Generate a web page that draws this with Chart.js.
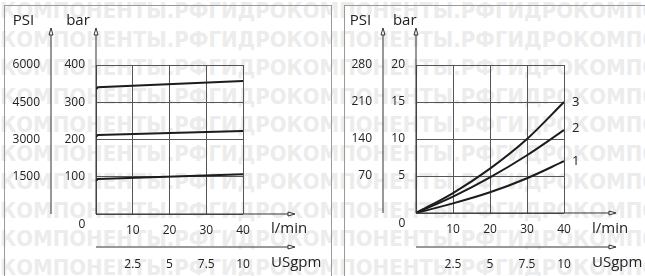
<!DOCTYPE html>
<html>
<head>
<meta charset="utf-8">
<script src="https://cdn.jsdelivr.net/npm/chart.js@4.4.1/dist/chart.umd.min.js"></script>
<style>
html, body { margin: 0; padding: 0; background: #fff; }
body { width: 645px; height: 276px; position: relative; overflow: hidden; }
#wm { position: absolute; left: 0; top: -3px; width: 645px; height: 290px; color: #ececec;
      font: bold 22px 'DejaVu Sans Condensed', 'DejaVu Sans', sans-serif; font-stretch: condensed;
      line-height: 28.5px; white-space: nowrap; overflow: hidden; }
.frame { position: absolute; top: 5px; height: 300px; border: 1px solid #9a9a9a; }
#f1 { left: 4px; width: 326px; }
#f2 { left: 344px; width: 330px; }
canvas { position: absolute; top: 0; }
#c1 { left: 0; }
#c2 { left: 337px; }
</style>
</head>
<body>
<div id="wm"></div>
<div class="frame" id="f1"></div>
<div class="frame" id="f2"></div>
<canvas id="c1" width="337" height="276"></canvas>
<canvas id="c2" width="308" height="276"></canvas>
<script>
// ---- left chart: pressure vs flow (three settings)
const flowL = [0, 0.5, 40];            // l/min
const setHigh = [335, 340, 357];       // bar
const setMid = [207, 212, 223];
const setLow = [89, 94, 107];

// ---- right chart: pressure drop vs flow (curves 1, 2, 3)
const flowR = [0, 10, 20, 30, 40];
const drop3 = [0, 2.7, 6.0, 10.0, 15.0];
const drop2 = [0, 2.2, 4.8, 7.8, 11.2];
const drop1 = [0, 1.3, 2.8, 4.7, 7.0];
const curveNames = ['3', '2', '1'];

// axis ranges
const barMaxL = 400, barStepL = 100, psiMaxL = 6000, psiStepL = 1500;
const barMaxR = 20, barStepR = 5, psiMaxR = 280, psiStepR = 70;
const flowMax = 40, flowStep = 10, gpmMax = 10, gpmStep = 2.5;

// watermark rows
const wmText = 'КОМПОНЕНТЫ.РФГИДРОКОМПОНЕНТЫ.РФГИДРОКОМПОНЕНТЫ';
let rows = '';
for (let i = 0; i < 10; i++) rows += '<div>' + wmText + '</div>';
document.getElementById('wm').innerHTML = rows;

Chart.defaults.font.family = "'Open Sans', sans-serif";
Chart.defaults.font.size = 12;
Chart.defaults.color = '#222';

function pts(xs, ys) {
  return xs.map((x, i) => ({ x: x, y: ys[i] }));
}

function upArrow(ctx, x, yBottom, tip) {
  ctx.beginPath();
  ctx.moveTo(x, yBottom);
  ctx.lineTo(x, tip + 7);
  ctx.moveTo(x - 2, tip + 7);
  ctx.lineTo(x, tip);
  ctx.lineTo(x + 2, tip + 7);
  ctx.closePath();
  ctx.stroke();
}

function rightArrow(ctx, x0, y, tip) {
  ctx.beginPath();
  ctx.moveTo(x0, y);
  ctx.lineTo(tip - 7, y);
  ctx.moveTo(tip - 7, y - 2);
  ctx.lineTo(tip, y);
  ctx.lineTo(tip - 7, y + 2);
  ctx.closePath();
  ctx.stroke();
}

const decor = {
  id: 'decor',
  afterDraw(chart, args, o) {
    const ctx = chart.ctx, a = chart.chartArea;
    const psi = chart.scales.psi, gpm = chart.scales.gpm;
    const tipX = a.right + 52;
    ctx.save();
    ctx.strokeStyle = '#333';
    ctx.lineWidth = 1;
    upArrow(ctx, a.left, a.bottom, 28);
    upArrow(ctx, psi.right, a.bottom, 28);
    rightArrow(ctx, a.left, a.bottom, tipX);
    rightArrow(ctx, a.left, gpm.top, tipX);

    ctx.fillStyle = '#222';
    ctx.font = "15px 'Open Sans'";
    ctx.textAlign = 'center';
    ctx.textBaseline = 'alphabetic';
    ctx.fillText('PSI', psi.right + o.psiDx, 25);
    ctx.fillText('bar', a.left + o.barDx, 25);
    ctx.textAlign = 'left';
    ctx.fillText('l/min', a.right + 28, 233);
    ctx.fillText('USgpm', a.right + 28, 267);

    ctx.font = "12px 'Open Sans'";
    ctx.textAlign = 'center';
    ctx.textBaseline = 'middle';
    ctx.fillText('0', a.left - 14, a.bottom + 11);

    if (o.curveLabels) {
      ctx.font = "13px 'Open Sans'";
      ctx.textAlign = 'left';
      chart.data.datasets.forEach((ds, i) => {
        const meta = chart.getDatasetMeta(i);
        const p = meta.data[meta.data.length - 1];
        ctx.fillText(ds.label, p.x + 8, p.y - (ds.label === '2' ? 2 : 0));
      });
    }
    ctx.restore();
  }
};

function makeScales(barMax, barStep, psiMax, psiStep, psiW, barW, xH, gpmH) {
  const hideZero = v => (v === 0 ? '' : v);
  return {
    x: {
      type: 'linear', position: 'bottom', min: 0, max: flowMax, weight: 0,
      ticks: { stepSize: flowStep, padding: 9, callback: hideZero },
      grid: { color: '#555', drawTicks: false }, border: { display: false },
      afterFit: s => { s.height = xH; }
    },
    gpm: {
      type: 'linear', position: 'bottom', min: 0, max: gpmMax, weight: 1,
      ticks: { stepSize: gpmStep, padding: 10, callback: hideZero },
      grid: { display: false, drawTicks: false }, border: { display: false },
      afterFit: s => { s.height = gpmH; }
    },
    y: {
      type: 'linear', position: 'left', min: 0, max: barMax, weight: 0,
      ticks: { stepSize: barStep, padding: 11, callback: hideZero },
      grid: { color: '#555', drawTicks: false }, border: { display: false },
      afterFit: s => { s.width = barW; }
    },
    psi: {
      type: 'linear', position: 'left', min: 0, max: psiMax, weight: 1,
      ticks: { stepSize: psiStep, padding: 11, callback: hideZero },
      grid: { display: false, drawTicks: false }, border: { display: false },
      afterFit: s => { s.width = psiW; }
    }
  };
}

function lineSet(label, xs, ys, smooth) {
  return {
    label: label,
    data: pts(xs, ys),
    borderColor: '#1c1c1c',
    borderWidth: 2,
    pointRadius: 0,
    fill: false,
    cubicInterpolationMode: smooth ? 'monotone' : 'default',
    tension: 0
  };
}

const config1 = {
  type: 'line',
  data: {
    datasets: [
      lineSet('high', flowL, setHigh, false),
      lineSet('mid', flowL, setMid, false),
      lineSet('low', flowL, setLow, false)
    ]
  },
  options: {
    responsive: false,
    animation: false,
    devicePixelRatio: 1,
    layout: { padding: { left: 4, top: 65, right: 94, bottom: 0 } },
    scales: makeScales(barMaxL, barStepL, psiMaxL, psiStepL, 47, 45, 33, 29),
    plugins: {
      legend: { display: false },
      tooltip: { enabled: false },
      decor: { psiDx: -27.5, barDx: -18, curveLabels: false }
    }
  },
  plugins: [decor]
};

const config2 = {
  type: 'line',
  data: {
    datasets: [
      lineSet(curveNames[0], flowR, drop3, true),
      lineSet(curveNames[1], flowR, drop2, true),
      lineSet(curveNames[2], flowR, drop1, true)
    ]
  },
  options: {
    responsive: false,
    animation: false,
    devicePixelRatio: 1,
    layout: { padding: { left: 7, top: 65, right: 81, bottom: 0 } },
    scales: makeScales(barMaxR, barStepR, psiMaxR, psiStepR, 39, 33, 34, 29),
    plugins: {
      legend: { display: false },
      tooltip: { enabled: false },
      decor: { psiDx: -22.5, barDx: -11.3, curveLabels: true }
    }
  },
  plugins: [decor]
};

const chart1 = new Chart(document.getElementById('c1'), config1);
const chart2 = new Chart(document.getElementById('c2'), config2);
</script>
</body>
</html>
